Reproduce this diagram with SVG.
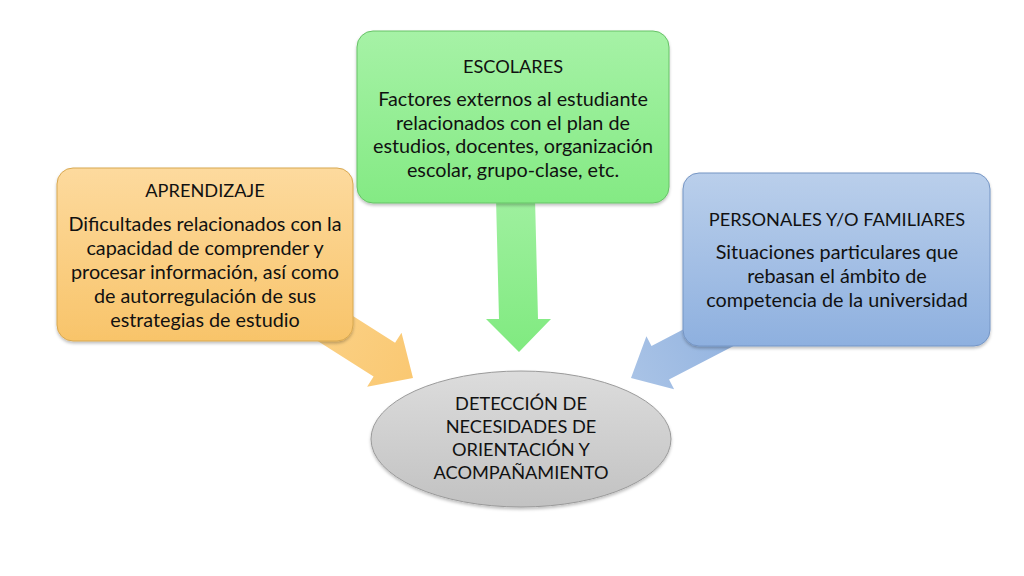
<svg xmlns="http://www.w3.org/2000/svg" width="1024" height="576" viewBox="0 0 1024 576">
  <defs>
    <linearGradient id="gOrange" x1="0" y1="0" x2="0" y2="1">
      <stop offset="0" stop-color="#fdda9e"/>
      <stop offset="1" stop-color="#f8c46a"/>
    </linearGradient>
    <linearGradient id="gGreen" x1="0" y1="0" x2="0" y2="1">
      <stop offset="0" stop-color="#a6f2a6"/>
      <stop offset="1" stop-color="#84ea84"/>
    </linearGradient>
    <linearGradient id="gBlue" x1="0" y1="0" x2="0" y2="1">
      <stop offset="0" stop-color="#bacfeb"/>
      <stop offset="1" stop-color="#8eb0df"/>
    </linearGradient>
    <linearGradient id="gGray" x1="0" y1="0" x2="0" y2="1">
      <stop offset="0" stop-color="#dcdcdc"/>
      <stop offset="1" stop-color="#c2c2c2"/>
    </linearGradient>
    <linearGradient id="aOrange" x1="0" y1="0" x2="1" y2="0">
      <stop offset="0" stop-color="#fbd38a"/>
      <stop offset="1" stop-color="#fac872"/>
    </linearGradient>
    <linearGradient id="aGreen" x1="0" y1="0" x2="0" y2="1">
      <stop offset="0" stop-color="#9ff09f"/>
      <stop offset="1" stop-color="#80ea80"/>
    </linearGradient>
    <linearGradient id="aBlue" x1="0" y1="0" x2="1" y2="0">
      <stop offset="0" stop-color="#8eb0df"/>
      <stop offset="1" stop-color="#a9c3e6"/>
    </linearGradient>
    <filter id="sh" x="-10%" y="-10%" width="120%" height="130%">
      <feDropShadow dx="0" dy="2" stdDeviation="1.5" flood-color="#000" flood-opacity="0.25"/>
    </filter>
  </defs>
  <style>
    text { font-family: Lato, "Open Sans", "Liberation Sans", sans-serif; font-size: 19.8px; fill: #111111; text-anchor: middle; }
    .cap { font-size: 18.2px; }
    .box { stroke-width: 1; }
  </style>
  <rect width="1024" height="576" fill="#ffffff"/>

  <g id="connectors">
    <polygon id="arrow-aprendizaje" fill="url(#aOrange)" points="-140,-20 -34,-20 -34,-32 0,0 -34,32 -34,20 -140,20" transform="translate(413,378) rotate(32.5)"/>
    <polygon id="arrow-escolares" fill="url(#aGreen)" points="496,198 535,198 538,319 551,319 519,352 486,319 499,319"/>
    <polygon id="arrow-personales" fill="url(#aBlue)" points="-140,-19 -33,-19 -33,-30 0,0 -33,30 -33,19 -140,19" transform="translate(631,378) rotate(152.5)"/>
  </g>

  <g id="node-aprendizaje">
    <rect class="box" x="57" y="168" width="296" height="173" rx="16" fill="url(#gOrange)" stroke="#d8a850" filter="url(#sh)"/>
    <text class="cap" x="205" y="197">APRENDIZAJE</text>
    <text x="205" y="231">Dificultades relacionados con la</text>
    <text x="205" y="255">capacidad de comprender y</text>
    <text x="205" y="279">procesar información, así como</text>
    <text x="205" y="303">de autorregulación de sus</text>
    <text x="205" y="327">estrategias de estudio</text>
  </g>

  <g id="node-escolares">
    <rect class="box" x="357" y="31" width="312" height="172" rx="16" fill="url(#gGreen)" stroke="#66c266" filter="url(#sh)"/>
    <text class="cap" x="513" y="73">ESCOLARES</text>
    <text x="513" y="106">Factores externos al estudiante</text>
    <text x="513" y="130">relacionados con el plan de</text>
    <text x="513" y="153">estudios, docentes, organización</text>
    <text x="513" y="177">escolar, grupo-clase, etc.</text>
  </g>

  <g id="node-personales">
    <rect class="box" x="683" y="173" width="307" height="173" rx="16" fill="url(#gBlue)" stroke="#7595c4" filter="url(#sh)"/>
    <text class="cap" x="837" y="226">PERSONALES Y/O FAMILIARES</text>
    <text x="837" y="259">Situaciones particulares que</text>
    <text x="837" y="283">rebasan el ámbito de</text>
    <text x="837" y="307">competencia de la universidad</text>
  </g>

  <g id="node-deteccion">
    <ellipse cx="521" cy="439" rx="150" ry="68" fill="url(#gGray)" stroke="#9a9a9a" filter="url(#sh)"/>
    <text class="cap" x="521" y="410">DETECCIÓN DE</text>
    <text class="cap" x="521" y="433">NECESIDADES DE</text>
    <text class="cap" x="521" y="456">ORIENTACIÓN Y</text>
    <text class="cap" x="521" y="479">ACOMPAÑAMIENTO</text>
  </g>
</svg>
